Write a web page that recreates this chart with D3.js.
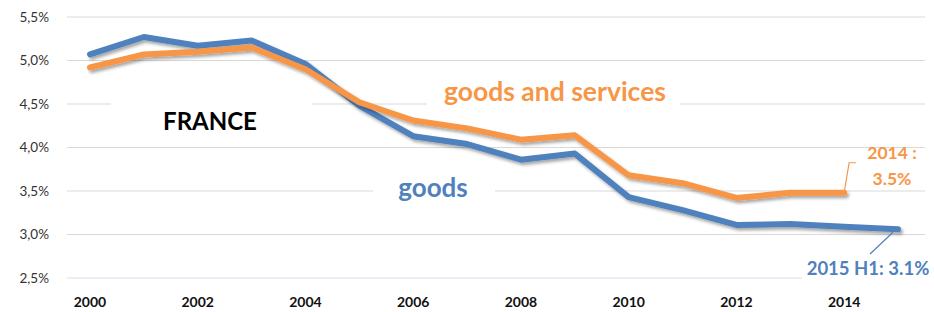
<!DOCTYPE html>
<html><head><meta charset="utf-8">
<script src="https://cdn.jsdelivr.net/npm/d3@7/dist/d3.min.js"></script>
<style>body{margin:0;background:#fff}svg{display:block}</style>
</head><body>
<svg id="c" width="934" height="312"></svg>
<script>
const years = d3.range(2000, 2016);
const goods = [5.07, 5.27, 5.17, 5.23, 4.96, 4.48, 4.13, 4.04, 3.86, 3.93, 3.43, 3.28, 3.11, 3.12, 3.09, 3.06];
const goodsServicesYears = d3.range(2000, 2015);
const goodsServices = [4.92, 5.07, 5.10, 5.15, 4.90, 4.52, 4.31, 4.22, 4.09, 4.14, 3.68, 3.59, 3.42, 3.48, 3.48];
const yTicks = [2.5, 3.0, 3.5, 4.0, 4.5, 5.0, 5.5];
const xTickYears = [2000, 2002, 2004, 2006, 2008, 2010, 2012, 2014];

const svg = d3.select("#c");
const font = "Lato, 'Open Sans', sans-serif";
const x = d3.scalePoint().domain(years).range([90, 898]);
const y = d3.scaleLinear().domain([2.5, 5.5]).range([278, 17]);

const defs = svg.append("defs");
const f = defs.append("filter").attr("id","sh").attr("x","-10%").attr("y","-10%").attr("width","120%").attr("height","140%");
f.append("feDropShadow").attr("dx",2).attr("dy",2.5).attr("stdDeviation",1.5).attr("flood-color","#000").attr("flood-opacity",0.35);

// gridlines
svg.append("g").selectAll("line").data(yTicks).join("line")
  .attr("x1",67).attr("x2",925).attr("y1",d=>y(d)).attr("y2",d=>y(d))
  .attr("stroke",d=>d===2.5?"#d6e0ee":"#d9d9d9").attr("stroke-width",1.2);

// y axis labels
const fmt = d => d.toFixed(1).replace(".", ",") + "%";
svg.append("g").selectAll("text").data(yTicks).join("text")
  .attr("x",49).attr("y",d=>y(d)).attr("dy","0.35em").attr("text-anchor","end")
  .attr("font-family",font).attr("font-size",13.5).attr("fill","#333").text(fmt);

// x axis labels
svg.append("g").selectAll("text").data(xTickYears).join("text")
  .attr("x",d=>x(d)).attr("y",302).attr("dy","0.35em").attr("text-anchor","middle")
  .attr("font-family",font).attr("font-weight","bold").attr("font-size",14).attr("fill","#111").text(d=>d);

// label boxes (hide gridlines)
function box(x0,y0,w,h){svg.append("rect").attr("x",x0).attr("y",y0).attr("width",w).attr("height",h).attr("fill","#fff");}
box(111,96,201,16);
box(373,180,122,20);
box(427,95,253,16);
box(802,258,132,24);

const line = d3.line().x(d=>x(d[0])).y(d=>y(d[1]));
svg.append("path").datum(years.map((yr,i)=>[yr,goods[i]]))
  .attr("d",line).attr("fill","none").attr("stroke","#4f81bd").attr("stroke-width",6)
  .attr("stroke-linejoin","round").attr("stroke-linecap","round").attr("filter","url(#sh)");
svg.append("path").datum(goodsServicesYears.map((yr,i)=>[yr,goodsServices[i]]))
  .attr("d",line).attr("fill","none").attr("stroke","#f79646").attr("stroke-width",6)
  .attr("stroke-linejoin","round").attr("stroke-linecap","round").attr("filter","url(#sh)");

// texts
svg.append("text").attr("x",210).attr("y",122).attr("dy","0.35em").attr("text-anchor","middle")
  .attr("font-family",font).attr("font-weight","bold").attr("font-size",24).attr("fill","#000").text("FRANCE");
svg.append("text").attr("x",555).attr("y",92).attr("dy","0.35em").attr("text-anchor","middle")
  .attr("font-family",font).attr("font-weight","bold").attr("font-size",26.5).attr("fill","#f79646").text("goods and services");
svg.append("text").attr("x",433).attr("y",188).attr("dy","0.35em").attr("text-anchor","middle")
  .attr("font-family",font).attr("font-weight","bold").attr("font-size",26).attr("fill","#4f81bd").text("goods");

// callouts
const lastGS = goodsServicesYears.length-1;
const ox = x(goodsServicesYears[lastGS]), oy = y(goodsServices[lastGS]);
svg.append("polyline").attr("points",`${ox},${oy} ${ox+5},${oy-30} ${ox+12},${oy-30}`)
  .attr("fill","none").attr("stroke","#f79646").attr("stroke-width",1.2);
svg.append("text").attr("x",892).attr("y",153).attr("dy","0.35em").attr("text-anchor","middle")
  .attr("font-family",font).attr("font-weight","bold").attr("font-size",17.5).attr("fill","#f79646").text("2014 :");
svg.append("text").attr("x",892).attr("y",179).attr("dy","0.35em").attr("text-anchor","middle")
  .attr("font-family",font).attr("font-weight","bold").attr("font-size",17.5).attr("fill","#f79646").text("3.5%");

const bx = x(years[years.length-1]), by = y(goods[goods.length-1]);
svg.append("line").attr("x1",bx-5).attr("y1",by+3).attr("x2",870).attr("y2",254)
  .attr("stroke","#4f81bd").attr("stroke-width",1.2);
svg.append("text").attr("x",868).attr("y",269).attr("dy","0.35em").attr("text-anchor","middle")
  .attr("font-family",font).attr("font-weight","bold").attr("font-size",18.5).attr("fill","#4f81bd").text("2015 H1: 3.1%");
</script>
</body></html>
